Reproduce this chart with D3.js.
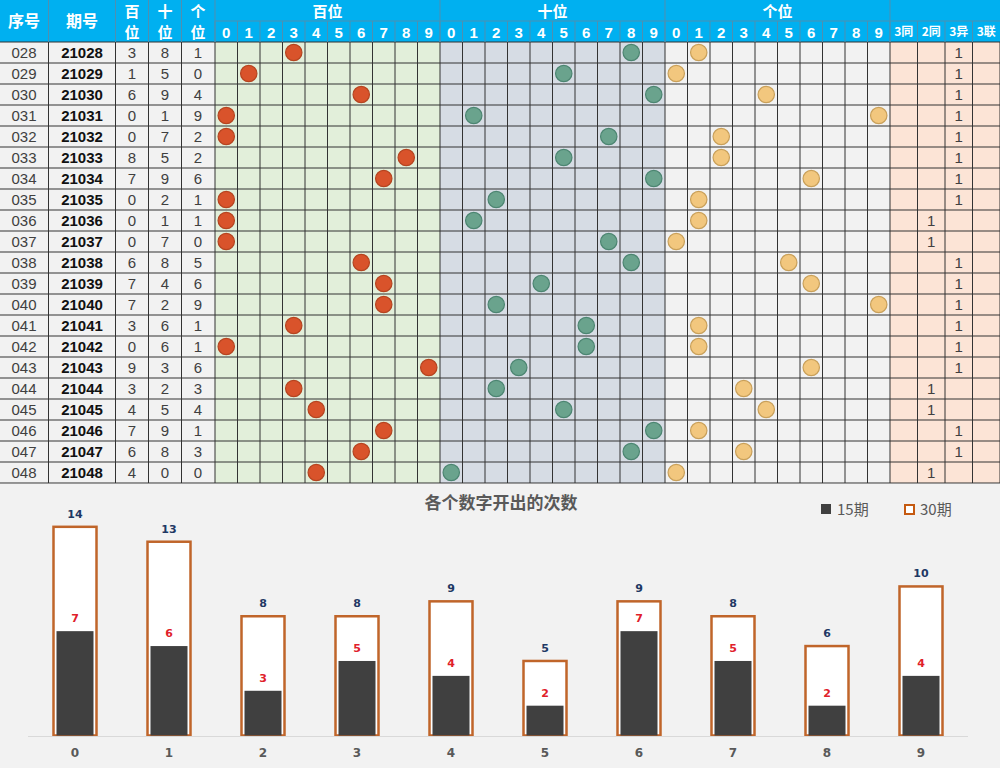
<!DOCTYPE html>
<html><head><meta charset="utf-8">
<script src="https://cdn.jsdelivr.net/npm/d3@7/dist/d3.min.js"></script>
<style>body{margin:0;background:#fff}svg{display:block}</style>
</head><body>
<svg id="c" width="1000" height="768"></svg>
<script>
// ---- data ----
const seqs   = ["028","029","030","031","032","033","034","035","036","037","038","039","040","041","042","043","044","045","046","047","048"];
const issues = ["21028","21029","21030","21031","21032","21033","21034","21035","21036","21037","21038","21039","21040","21041","21042","21043","21044","21045","21046","21047","21048"];
const hund   = [3,1,6,0,0,8,7,0,0,0,6,7,7,3,0,9,3,4,7,6,4];
const tens   = [8,5,9,1,7,5,9,2,1,7,8,4,2,6,6,3,2,5,9,8,0];
const units  = [1,0,4,9,2,2,6,1,1,0,5,6,9,1,1,6,3,4,1,3,0];
const types  = ["3异","3异","3异","3异","3异","3异","3异","3异","2同","2同","3异","3异","3异","3异","3异","3异","2同","2同","3异","3异","2同"];
const typeCols = ["3同","2同","3异","3联"];
const digits = ["0","1","2","3","4","5","6","7","8","9"];
const count15 = [7,6,3,5,4,2,7,5,2,4];
const count30 = [14,13,8,8,9,5,9,8,6,10];
const chartTitle = "各个数字开出的次数";

const svg = d3.select("#c");
const CJK = "'Noto Sans CJK SC','Noto Sans',sans-serif";
const NUM = "'Liberation Sans',Arial,sans-serif";

// ---- table geometry via scales ----
const rowY = d3.scaleBand().domain(issues).range([42, 483]);
const secH = d3.scaleBand().domain(digits).range([215, 440]);
const secT = d3.scaleBand().domain(digits).range([440, 665]);
const secU = d3.scaleBand().domain(digits).range([665, 890]);
const secR = d3.scaleBand().domain(typeCols).range([890, 1000]);

// backgrounds
const bodyTop = 42, bodyBot = 483;
svg.append("rect").attr("x",0).attr("y",bodyTop).attr("width",215).attr("height",bodyBot-bodyTop).attr("fill","#f2f2f2");
svg.append("rect").attr("x",215).attr("y",bodyTop).attr("width",225).attr("height",bodyBot-bodyTop).attr("fill","#e2efda");
svg.append("rect").attr("x",440).attr("y",bodyTop).attr("width",225).attr("height",bodyBot-bodyTop).attr("fill","#d6dce4");
svg.append("rect").attr("x",665).attr("y",bodyTop).attr("width",225).attr("height",bodyBot-bodyTop).attr("fill","#f2f2f2");
svg.append("rect").attr("x",890).attr("y",bodyTop).attr("width",110).attr("height",bodyBot-bodyTop).attr("fill","#fce4d6");
// header
svg.append("rect").attr("x",0).attr("y",0).attr("width",1000).attr("height",42).attr("fill","#00b0f0");

// grid lines body
const gridG = svg.append("g").attr("stroke","#333").attr("stroke-width",1);
const vx = [48.5,115.5,148.5,181.5,215];
[secH,secT,secU].forEach(s=>digits.forEach(d=>vx.push(s(d)+s.bandwidth())));
typeCols.forEach(d=>vx.push(secR(d)+secR.bandwidth()));
vx.forEach(x=>gridG.append("line").attr("x1",x).attr("x2",x).attr("y1",bodyTop).attr("y2",bodyBot));
issues.forEach(d=>{
  gridG.append("line").attr("x1",0).attr("x2",1000).attr("y1",rowY(d)+rowY.bandwidth()).attr("y2",rowY(d)+rowY.bandwidth());
});
gridG.append("line").attr("x1",0).attr("x2",1000).attr("y1",bodyTop).attr("y2",bodyTop);

// header lines
const hg = svg.append("g").attr("stroke","#4f8fb0").attr("stroke-width",1);
[48.5,115.5,148.5,181.5,215,440,665,890].forEach(x=>hg.append("line").attr("x1",x).attr("x2",x).attr("y1",0).attr("y2",42));
[secH,secT,secU].forEach(s=>digits.forEach(d=>{const x=s(d); hg.append("line").attr("x1",x).attr("x2",x).attr("y1",21).attr("y2",42);}));
typeCols.forEach(d=>{const x=secR(d); hg.append("line").attr("x1",x).attr("x2",x).attr("y1",21).attr("y2",42);});
hg.append("line").attr("x1",215).attr("x2",1000).attr("y1",21).attr("y2",21);

// header text
const ht = svg.append("g").attr("fill","#fff").attr("font-family",CJK).attr("font-weight","bold").attr("text-anchor","middle");
ht.append("text").attr("x",24).attr("y",27).attr("font-size",16).text("序号");
ht.append("text").attr("x",82).attr("y",27).attr("font-size",16).text("期号");
[["百",132],["十",165],["个",198]].forEach(([c,x])=>{
  ht.append("text").attr("x",x).attr("y",17).attr("font-size",15).text(c);
  ht.append("text").attr("x",x).attr("y",38).attr("font-size",15).text("位");
});
[["百位",secH],["十位",secT],["个位",secU]].forEach(([t,s])=>{
  ht.append("text").attr("x",(s.range()[0]+s.range()[1])/2).attr("y",16.5).attr("font-size",15).text(t);
  digits.forEach(d=>ht.append("text").attr("x",s(d)+s.bandwidth()/2).attr("y",37.5).attr("font-size",15).attr("font-family",NUM).text(d));
});
typeCols.forEach(d=>ht.append("text").attr("x",secR(d)+secR.bandwidth()/2).attr("y",36).attr("font-size",12).text(d));

// body text
const bt = svg.append("g").attr("text-anchor","middle").attr("font-family",NUM).attr("font-size",15);
issues.forEach((iss,i)=>{
  const cy = rowY(iss)+rowY.bandwidth()/2+5.5;
  bt.append("text").attr("x",24).attr("y",cy).attr("fill","#404040").text(seqs[i]);
  bt.append("text").attr("x",82).attr("y",cy).attr("fill","#111").attr("font-weight","bold").text(iss);
  bt.append("text").attr("x",132).attr("y",cy).attr("fill","#404040").text(hund[i]);
  bt.append("text").attr("x",165).attr("y",cy).attr("fill","#404040").text(tens[i]);
  bt.append("text").attr("x",198).attr("y",cy).attr("fill","#404040").text(units[i]);
  bt.append("text").attr("x",secR(types[i])+secR.bandwidth()/2).attr("y",cy).attr("fill","#404040").text("1");
});

// circles
const cg = svg.append("g");
const specs = [[secH,hund,"#d9532b","#b54420"],[secT,tens,"#6aa38d","#4c8571"],[secU,units,"#f2c77e","#c9a05a"]];
specs.forEach(([s,arr,fill,stroke])=>{
  issues.forEach((iss,i)=>{
    cg.append("circle").attr("cx",s(String(arr[i]))+s.bandwidth()/2).attr("cy",rowY(iss)+rowY.bandwidth()/2)
      .attr("r",8.2).attr("fill",fill).attr("stroke",stroke).attr("stroke-width",1.2);
  });
});

// ---- bottom chart ----
svg.append("rect").attr("x",0).attr("y",484).attr("width",1000).attr("height",284).attr("fill","#f2f2f2");
svg.append("text").attr("x",501).attr("y",509).attr("text-anchor","middle").attr("font-family",CJK)
  .attr("font-weight","bold").attr("font-size",17).attr("fill","#595959").text(chartTitle);

// legend
const lg = svg.append("g").attr("font-family",CJK).attr("font-size",15).attr("fill","#595959");
lg.append("rect").attr("x",821).attr("y",504).attr("width",10).attr("height",10).attr("fill","#404040");
lg.append("text").attr("x",837).attr("y",515).text("15期");
lg.append("rect").attr("x",905).attr("y",505).attr("width",9).attr("height",9).attr("fill","#fff").attr("stroke","#c55a11").attr("stroke-width",2);
lg.append("text").attr("x",920).attr("y",515).text("30期");

const x = d3.scaleBand().domain(digits).range([28, 968]);
const y = d3.scaleLinear().domain([0,16]).range([735.5, 497]);
const w30 = 46, w15 = 37;
const bg = svg.append("g");
bg.selectAll(".b30").data(digits).join("rect")
  .attr("x",d=>x(d)+x.bandwidth()/2-w30/2+1.5).attr("y",(d,i)=>y(count30[i]))
  .attr("width",w30-3).attr("height",(d,i)=>y(0)-y(count30[i]))
  .attr("fill","#fff").attr("stroke","#c0652a").attr("stroke-width",2.5);
bg.selectAll(".b15").data(digits).join("rect")
  .attr("x",d=>x(d)+x.bandwidth()/2-w15/2).attr("y",(d,i)=>y(count15[i]))
  .attr("width",w15).attr("height",(d,i)=>y(0)-y(count15[i]))
  .attr("fill","#404040");
// axis
const axisG = svg.append("g").attr("transform",`translate(0,${y(0)+1})`).call(d3.axisBottom(x).tickSize(0).tickPadding(12));
axisG.select(".domain").attr("stroke","#d9d9d9").attr("d","M28,0H968");
axisG.selectAll("text").attr("font-family","'DejaVu Sans',sans-serif").attr("font-weight","bold").attr("font-size",12).attr("fill","#595959");

// labels
const lb = svg.append("g").attr("font-family","'DejaVu Sans',sans-serif").attr("font-weight","bold").attr("font-size",11).attr("text-anchor","middle");
lb.selectAll(".l30").data(digits).join("text").attr("x",d=>x(d)+x.bandwidth()/2).attr("y",(d,i)=>y(count30[i])-9)
  .attr("fill","#1f3864").text((d,i)=>count30[i]);
lb.selectAll(".l15").data(digits).join("text").attr("x",d=>x(d)+x.bandwidth()/2).attr("y",(d,i)=>y(count15[i])-9)
  .attr("fill","#e0202a").text((d,i)=>count15[i]);
</script>
</body></html>
